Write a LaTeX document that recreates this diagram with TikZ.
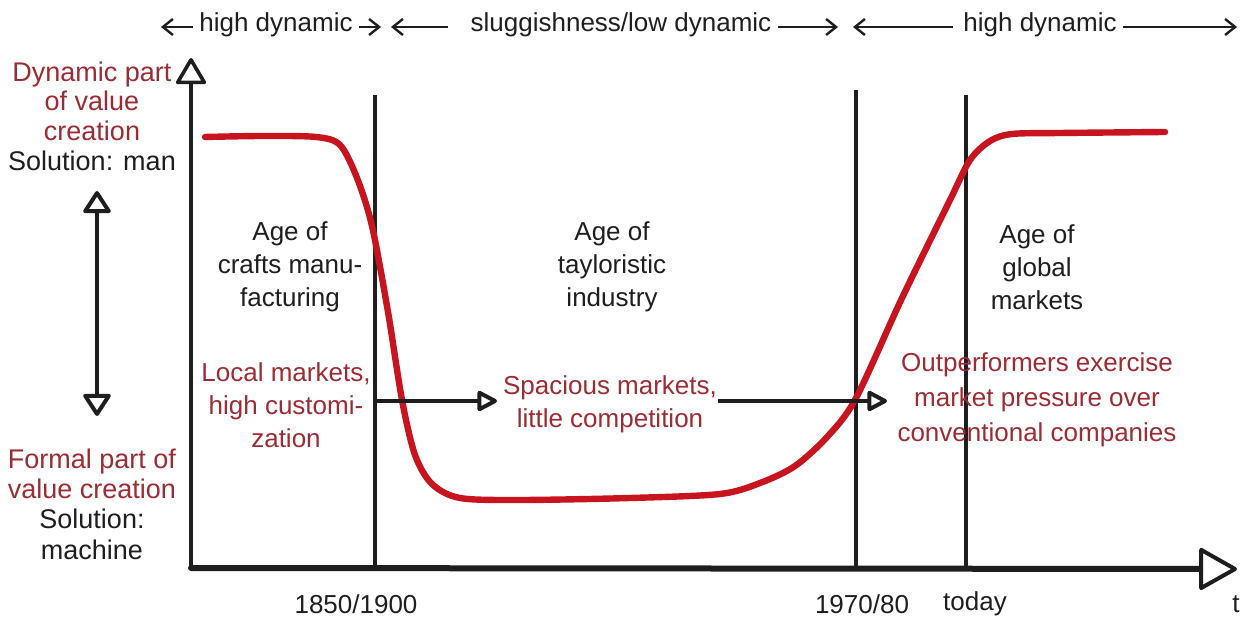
\documentclass[tikz,border=0pt]{standalone}
\usepackage{fontspec}
\setmainfont{Liberation Sans}
\usetikzlibrary{arrows.meta,positioning}
\definecolor{curvered}{HTML}{C8141E}
\definecolor{notered}{HTML}{9E2B33}
\definecolor{ink}{HTML}{1E1E1E}
\tikzset{
  lbl/.style={font=\fontsize{13}{16.5}\selectfont,align=center,text=ink,inner sep=0pt},
  rlbl/.style={lbl,text=notered},
  sidelbl/.style={lbl,font=\fontsize{13.5}{14.8}\selectfont},
  toplbl/.style={lbl,inner xsep=3pt},
  toparrow/.style={draw=ink,line width=1.2pt,-{Straight Barb[length=5pt,width=8pt]}},
  eraline/.style={draw=ink,line width=1.9pt},
  axis/.style={draw=ink,line cap=round},
  pushline/.style={draw=ink,line width=1.6pt,-{Triangle[open,round,length=11pt,width=11pt,line width=2pt]}},
}
\begin{document}
\begin{tikzpicture}[x=0.5pt,y=-0.5pt]
  \useasboundingbox (0,0) rectangle (1240,619);
  % frame of the diagram
  \coordinate (origin) at (191,568);
  \coordinate (ytip) at (191,58);
  \coordinate (xtip) at (1237,569);
  \draw[axis,line width=1.6pt,-{Triangle[open,round,length=14pt,width=16pt,line width=1.8pt]}] (origin) -- (ytip);
  \draw[axis,line width=3pt,-{Triangle[open,round,length=20pt,width=22pt,line width=2pt]}] (origin) -- (xtip);
  % era boundaries
  \coordinate (b1top) at (375,95);   \coordinate (b1bot) at (375,567);
  \coordinate (b2top) at (856,90);   \coordinate (b2bot) at (856,568);
  \coordinate (b3top) at (966,95);   \coordinate (b3bot) at (966,569);
  \draw[eraline] (b1top) -- (b1bot);
  \draw[eraline] (b2top) -- (b2bot);
  \draw[eraline] (b3top) -- (b3bot);
  % dynamic part of value creation over time
  \draw[line width=3.2pt,curvered,line cap=round] plot[smooth] coordinates {
    (205,137) (262,136) (316,137) (340,145) (357,178) (372,226) (388,312)
    (402,400) (415,455) (432,484) (460,498) (520,500) (630,498) (720,494)
    (760,483) (795,466) (828,436) (856,398) (902,298) (950,200) (970,160)
    (990,141) (1012,134) (1060,133) (1165,132)};
  % side scale
  \node[sidelbl] (dynlbl) at (92,116) {\textcolor{notered}{Dynamic part}\\\textcolor{notered}{of value}\\\textcolor{notered}{creation}\\Solution: man};
  \node[sidelbl,font=\fontsize{13.5}{15.2}\selectfont] (formlbl) at (92,504) {\textcolor{notered}{Formal part of}\\\textcolor{notered}{value creation}\\Solution:\\machine};
  \coordinate (scaletop) at (97,191);
  \coordinate (scalebot) at (97,416);
  \draw[axis,line width=2pt,{Triangle[open,round,length=12pt,width=15pt,line width=2pt]}-{Triangle[open,round,length=12pt,width=15pt,line width=2pt]}] (scalebot) -- (scaletop);
  % ages
  \node[lbl] (crafts) at (290,267) {Age of\\crafts manu-\\facturing};
  \node[lbl] (taylor) at (612,267) {Age of\\tayloristic\\industry};
  \node[lbl] (global) at (1037,267) {Age of\\global\\markets};
  \node[rlbl] (local) at (286,405) {Local markets,\\high customi-\\zation};
  \node[rlbl] (spacious) at (610,404) {Spacious markets,\\little competition};
  \node[rlbl,font=\fontsize{13}{17.5}\selectfont] (outperf) at (1037,400) {Outperformers exercise\\market pressure over\\conventional companies};
  \coordinate (push1) at (375,401);
  \coordinate (push1tip) at (497,401);
  \coordinate (push2) at (718,401);
  \coordinate (push2tip) at (887,401);
  \draw[pushline] (push1) -- (push1tip);
  \draw[pushline] (push2) -- (push2tip);
  % dynamic phases on top
  \node[toplbl] (hdleft) at (276,25) {high dynamic};
  \node[toplbl] (slug) at (621,25) {sluggishness/low dynamic};
  \node[toplbl] (hdright) at (1040,25) {high dynamic};
  \coordinate (p1a) at (161,27); \coordinate (p1b) at (381,27);
  \coordinate (p2a) at (391,27); \coordinate (p2b) at (838,27);
  \coordinate (p3a) at (853,27); \coordinate (p3b) at (1237,27);
  \draw[toparrow] (hdleft.west |- p1a) -- (p1a);
  \draw[toparrow] (hdleft.east |- p1b) -- (p1b);
  \draw[toparrow] ([xshift=-8pt]slug.west |- p2a) -- (p2a);
  \draw[toparrow] (slug.east |- p2b) -- (p2b);
  \draw[toparrow] ([xshift=-2pt]hdright.west |- p3a) -- (p3a);
  \draw[toparrow] (hdright.east |- p3b) -- (p3b);
  % time marks
  \node[lbl] (t1) at (356,604) {1850/1900};
  \node[lbl] (t2) at (862,604) {1970/80};
  \node[lbl] (t3) at (975,604) {today};
  \node[lbl] (tlbl) at (1236,604) {t};
\end{tikzpicture}
\end{document}
